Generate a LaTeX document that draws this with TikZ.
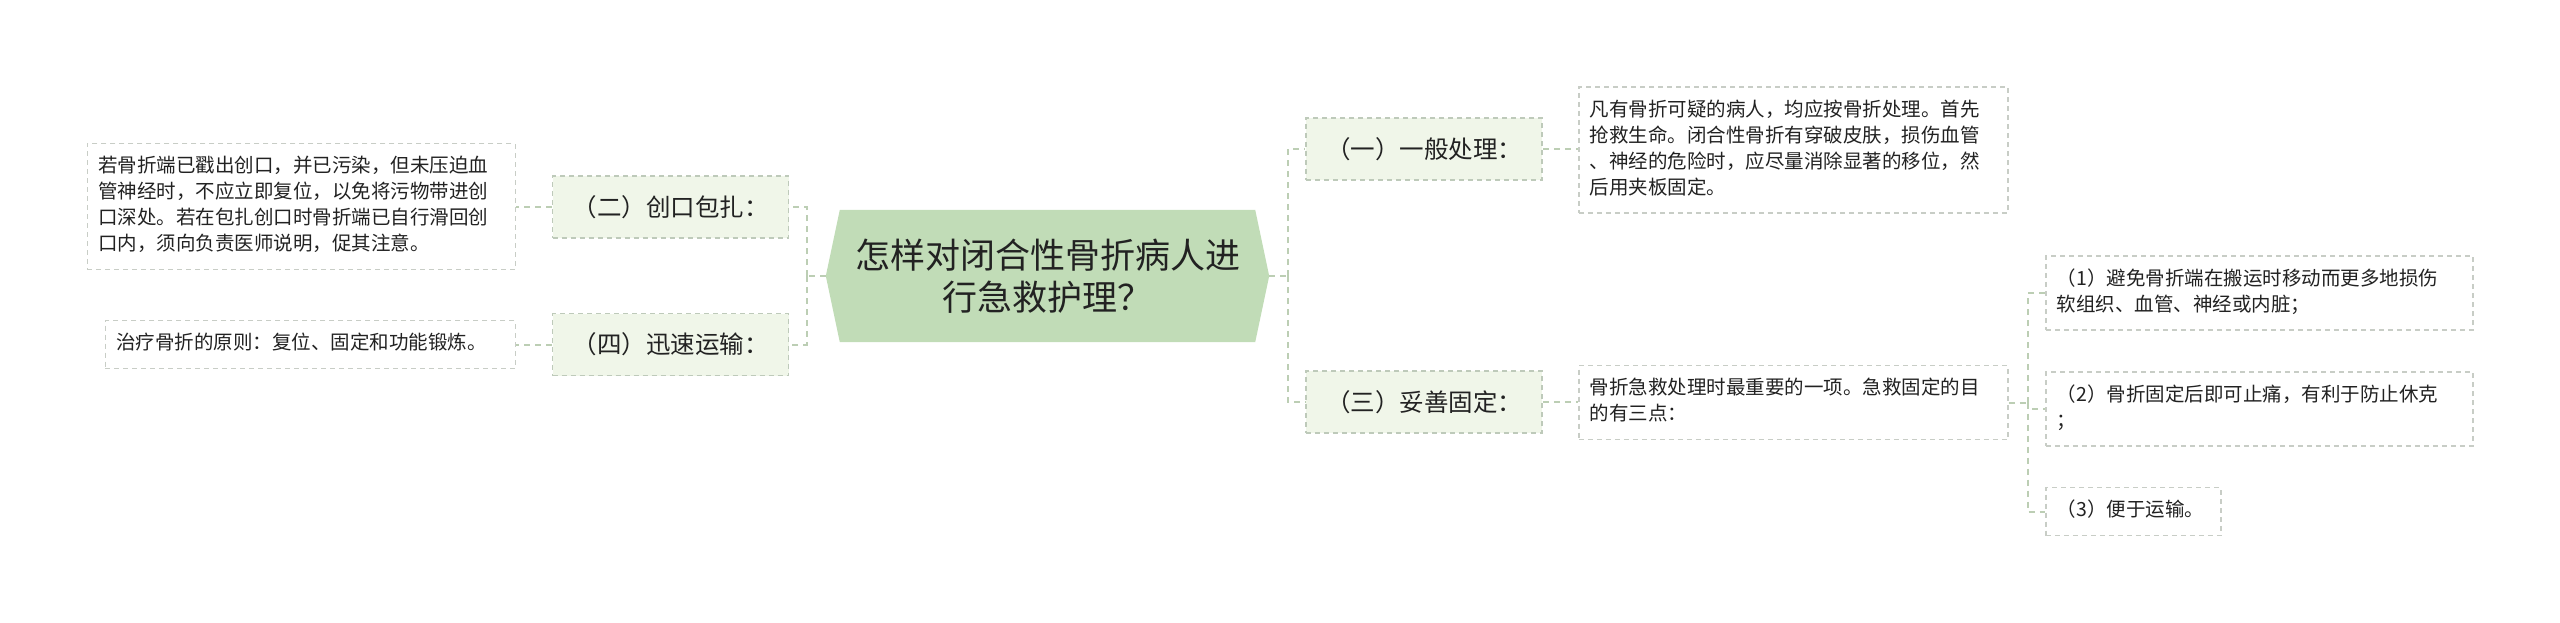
\documentclass[tikz,border=0pt]{standalone}
\usepackage{fontspec}
\setmainfont{Noto Sans CJK SC}
\usetikzlibrary{calc,backgrounds}
\definecolor{hexfill}{RGB}{193,220,183}
\definecolor{brfill}{RGB}{240,246,233}
\definecolor{brline}{RGB}{190,202,186}
\definecolor{lfline}{RGB}{200,205,198}
\definecolor{conn}{RGB}{188,206,180}
\definecolor{txt}{RGB}{34,34,34}
\begin{document}
\begin{tikzpicture}[x=1pt,y=-1pt,
  centernode/.style={font=\fontsize{35}{42}\selectfont, align=center, minimum width=443pt, minimum height=132pt, inner sep=0pt, text=txt},
  branch/.style={draw=brline, fill=brfill, dash pattern=on 5pt off 4pt, line width=1.5pt, font=\fontsize{24.5}{28}\selectfont, minimum width=236pt, minimum height=62pt, inner sep=0pt, text=txt},
  leaf/.style={draw=lfline, fill=white, dash pattern=on 5pt off 4pt, line width=1.5pt, font=\fontsize{19.5}{26}\selectfont, align=left, inner xsep=11pt, inner ysep=11pt, text=txt, execute at begin node=\strut, execute at end node=\strut},
  link/.style={draw=conn, line width=2pt, dash pattern=on 6pt off 5pt}]
\useasboundingbox (0,0) rectangle (2560,623);

% centre
\node[centernode] (c) at (1047.5,276) {怎样对闭合性骨折病人进\\行急救护理？};
\begin{scope}[on background layer]
\fill[hexfill] (c.west) -- ($(c.north west)+(14,0)$) -- ($(c.north east)+(-14,0)$) -- (c.east) -- ($(c.south east)+(-14,0)$) -- ($(c.south west)+(14,0)$) -- cycle;
\end{scope}

% right side
\node[branch] (b1) at (1424,149) {（一）一般处理：};
\node[branch] (b3) at (1424,402) {（三）妥善固定：};
\node[leaf, text width=407pt, anchor=west] (r1) at (1578,150) {凡有骨折可疑的病人，均应按骨折处理。首先\\抢救生命。闭合性骨折有穿破皮肤，损伤血管\\、神经的危险时，应尽量消除显著的移位，然\\后用夹板固定。};
\node[leaf, text width=407pt, anchor=west] (r3) at (1578,402.5) {骨折急救处理时最重要的一项。急救固定的目\\的有三点：};
\node[leaf, text width=405pt, anchor=west] (s1) at (2045,293) {（1）避免骨折端在搬运时移动而更多地损伤\\软组织、血管、神经或内脏；};
\node[leaf, text width=405pt, anchor=west] (s2) at (2045,409) {（2）骨折固定后即可止痛，有利于防止休克\\；};
\node[leaf, text width=153pt, anchor=west] (s3) at (2045,511.5) {（3）便于运输。};

% left side
\node[branch] (b2) at (670.5,207) {（二）创口包扎：};
\node[branch] (b4) at (670.5,344.5) {（四）迅速运输：};
\node[leaf, text width=406pt, anchor=east] (l2) at (516,206.5) {若骨折端已戳出创口，并已污染，但未压迫血\\管神经时，不应立即复位，以免将污物带进创\\口深处。若在包扎创口时骨折端已自行滑回创\\口内，须向负责医师说明，促其注意。};
\node[leaf, text width=388pt, anchor=east] (l4) at (516,344.5) {治疗骨折的原则：复位、固定和功能锻炼。};

% connectors right
\coordinate (jr) at ($(c.east)+(19,0)$);
\draw[link] (c.east) -- (jr);
\draw[link] (jr) |- (b1.west);
\draw[link] (jr) |- (b3.west);
\draw[link] (b1.east) -- (b1.east -| r1.west);
\draw[link] (b3.east) -- (b3.east -| r3.west);
\coordinate (js) at ($(r3.east)+(19,0)$);
\draw[link] (r3.east) -- (js);
\draw[link] (js) |- (s1.west);
\draw[link] (js) |- (s2.west);
\draw[link] (js) |- (s3.west);

% connectors left
\coordinate (jl) at ($(c.west)+(-19,0)$);
\draw[link] (c.west) -- (jl);
\draw[link] (jl) |- (b2.east);
\draw[link] (jl) |- (b4.east);
\draw[link] (b2.west) -- (b2.west -| l2.east);
\draw[link] (b4.west) -- (b4.west -| l4.east);
\end{tikzpicture}
\end{document}
